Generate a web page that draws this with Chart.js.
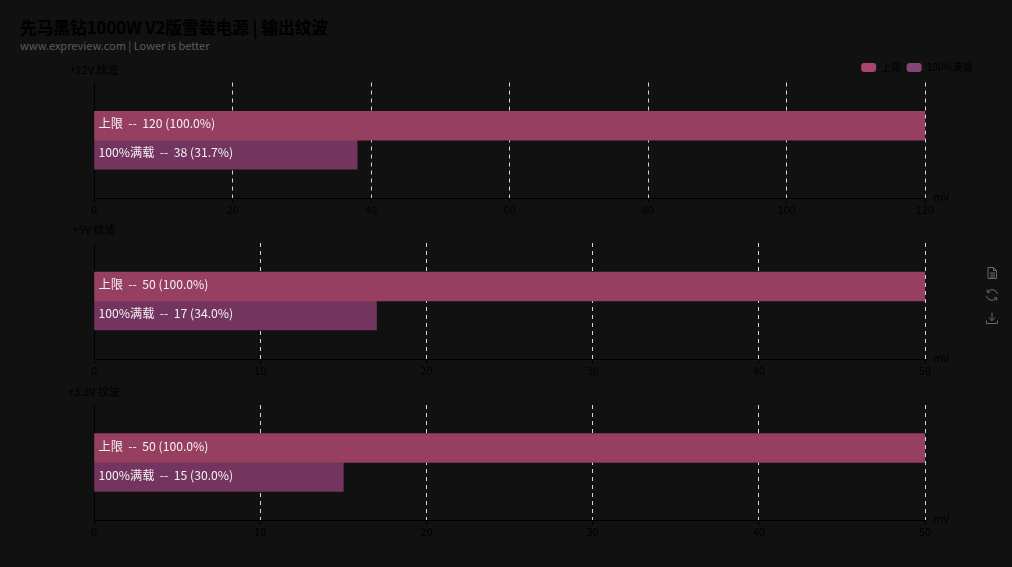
<!DOCTYPE html>
<html lang="zh">
<head>
<meta charset="utf-8">
<title>先马黑钻1000W V2版雪装电源 | 输出纹波</title>
<script src="https://cdn.jsdelivr.net/npm/chart.js@4"></script>
<style>
  html, body { margin: 0; padding: 0; background: #111111; overflow: hidden; }
  body { width: 1012px; height: 567px; position: relative; font-family: "Noto Sans CJK SC", "Noto Sans", sans-serif; }
  #titulo { position: absolute; left: 20px; top: 14px; font-size: 16.7px; font-weight: 700; line-height: 26px; color: #000000; white-space: pre; }
  #subtitulo { position: absolute; left: 20px; top: 37px; font-size: 11px; line-height: 16px; color: #5c5c5c; white-space: pre; }
  canvas { position: absolute; left: 0; }
  #chart-12v { top: 58px; }
  #chart-5v { top: 219px; }
  #chart-33v { top: 380px; }
  .icone { position: absolute; left: 985px; width: 14px; height: 14px; fill: none; stroke: #6a6a6a; stroke-width: 1; }
</style>
</head>
<body>
<div id="titulo">先马黑钻1000W V2版雪装电源 | 输出纹波</div>
<div id="subtitulo">www.expreview.com | Lower is better</div>

<canvas id="chart-12v" width="1012" height="161"></canvas>
<canvas id="chart-5v" width="1012" height="161"></canvas>
<canvas id="chart-33v" width="1012" height="161"></canvas>

<!-- toolbox: data view, restore, save -->
<svg class="icone" style="top:266px" viewBox="0 0 14 14"><path d="M3 1.5h5.5l3 3v8h-8.500zM8.500 1.500v3h3M5 7h5M5 9h5M5 11h5"/></svg>
<svg class="icone" style="top:288px" viewBox="0 0 14 14"><path d="M12.500 6A5.600 5.600 0 0 0 2.500 4M1.500 8a5.600 5.600 0 0 0 10 2M2.300 1.500v2.700h2.700M11.700 12.500V9.800H9"/></svg>
<svg class="icone" style="top:311px" viewBox="0 0 14 14"><path d="M7 1.500v8M3.800 6.500 7 9.700l3.200-3.200M1.500 9.500v3h11v-3"/></svg>

<script>
const nomesSeries = ["上限", "100%满载"];
const nomesTensao = ["+12V 纹波", "+5V 纹波", "+3.3V 纹波"];
const limites = [120, 50, 50];
const cargaTotal = [38, 17, 15];
const passosEixo = [20, 10, 10];
const idsCanvas = ["chart-12v", "chart-5v", "chart-33v"];
const margensTopo = [-1, 24, 25];

const corFundoLimite = "#963f60";
const corFundoCarga = "#73345f";
const corLegendaLimite = "#a8446e";
const corLegendaCarga = "#864578";
const corEixo = "#000000";
const corGrade = "#d8d8d8";
const fonte = "'Noto Sans CJK SC', 'Noto Sans', sans-serif";

// text inside each bar, e.g. "上限  --  120 (100.0%)"
const rotulosBarras = {
  id: "rotulosBarras",
  afterDatasetsDraw(chart) {
    const ctx = chart.ctx;
    const limite = chart.options.limiteTensao;
    ctx.save();
    ctx.font = "12.2px " + fonte;
    ctx.fillStyle = "#f2f2f2";
    ctx.textAlign = "left";
    ctx.textBaseline = "middle";
    chart.data.datasets.forEach((dataset, i) => {
      const barra = chart.getDatasetMeta(i).data[0];
      const valor = dataset.data[0];
      const pct = (valor / limite * 100).toFixed(1);
      ctx.fillText(`${dataset.label}  --  ${valor} (${pct}%)`, barra.base + 4, barra.y - 2);
    });
    ctx.restore();
  }
};

// rail name above the value axis and unit after its end
const nomesEixos = {
  id: "nomesEixos",
  afterDraw(chart) {
    const ctx = chart.ctx;
    const area = chart.chartArea;
    ctx.save();
    ctx.font = "11px " + fonte;
    ctx.fillStyle = corEixo;
    ctx.textBaseline = "middle";
    ctx.textAlign = "center";
    ctx.fillText(chart.options.nomeTensao, area.left, area.top - 13);
    ctx.textAlign = "left";
    ctx.fillText("mV", area.right + 8, area.bottom - 1);
    ctx.restore();
  }
};

function criarOptions(indice) {
  return {
    responsive: false,
    animation: false,
    nomeTensao: nomesTensao[indice],
    limiteTensao: limites[indice],
    indexAxis: "y",
    layout: { padding: { top: margensTopo[indice], right: 34 } },
    plugins: {
      title: { display: false },
      tooltip: { enabled: false },
      legend: {
        display: indice === 0,
        position: "top",
        align: "end",
        labels: {
          boxWidth: 15,
          boxHeight: 9,
          padding: 5.5,
          useBorderRadius: true,
          borderRadius: 3,
          color: corEixo,
          font: { family: fonte, size: 10 },
          generateLabels() {
            return nomesSeries.map((nome, i) => ({
              text: nome,
              fillStyle: i === 0 ? corLegendaLimite : corLegendaCarga,
              strokeStyle: "transparent",
              lineWidth: 0,
              borderRadius: 3,
              fontColor: corEixo,
              datasetIndex: i
            }));
          }
        }
      }
    },
    scales: {
      x: {
        min: 0,
        max: limites[indice],
        afterFit(escala) { escala.height = 21; },
        ticks: {
          stepSize: passosEixo[indice],
          color: corEixo,
          padding: 0,
          maxRotation: 0,
          font: { family: fonte, size: 11 }
        },
        grid: {
          color: corGrade,
          tickColor: corEixo,
          tickLength: 5,
          lineWidth: 1
        },
        border: { color: corEixo, dash: [4, 4], display: true }
      },
      y: {
        position: "left",
        afterFit(escala) { escala.width = 94; },
        ticks: { display: false },
        grid: { display: false },
        border: { color: corEixo }
      },
      folgaDireita: {
        type: "category",
        position: "right",
        afterFit(escala) { escala.width = 53; },
        ticks: { display: false },
        grid: { display: false },
        border: { display: false }
      }
    }
  };
}

idsCanvas.forEach((id, i) => {
  new Chart(document.getElementById(id), {
    type: "bar",
    data: {
      labels: [nomesTensao[i]],
      datasets: [
        {
          label: nomesSeries[0],
          data: [limites[i]],
          backgroundColor: corFundoLimite,
          barThickness: 29,
          categoryPercentage: 0.517
        },
        {
          label: nomesSeries[1],
          data: [cargaTotal[i]],
          backgroundColor: corFundoCarga,
          barThickness: 29,
          categoryPercentage: 0.517
        }
      ]
    },
    options: criarOptions(i),
    plugins: [rotulosBarras, nomesEixos]
  });
});
</script>
</body>
</html>
